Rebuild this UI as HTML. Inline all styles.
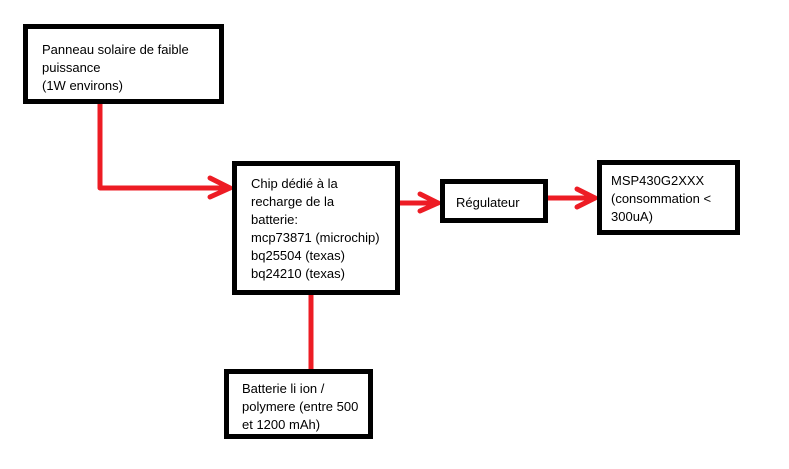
<!DOCTYPE html>
<html><head><style>
body{margin:0;width:789px;height:469px;background:#fff;position:relative;overflow:hidden;font-family:"Liberation Sans",sans-serif;font-size:13px;color:#000}
.b{position:absolute;border:5px solid #000;box-sizing:border-box;background:#fff;line-height:18px;white-space:nowrap}
svg{position:absolute;left:0;top:0}
</style></head><body>
<svg width="789" height="469">
<g stroke="#ed1c24" stroke-width="5" fill="none" stroke-linecap="round" stroke-linejoin="round">
<polyline points="100,104 100,188 230,188"/>
<polyline points="210,178 230,188 210,197"/>
<line x1="399" y1="203" x2="438" y2="203"/>
<polyline points="420,194 438,203 420,211"/>
<line x1="547" y1="198" x2="595" y2="198"/>
<polyline points="577,189 595,198 577,207"/>
<line x1="311" y1="294" x2="311" y2="369"/>
</g>
</svg>
<div class="b" style="left:23px;top:24px;width:201px;height:80px;padding:12px 0 0 14px">Panneau solaire de faible<br>puissance<br>(1W environs)</div>
<div class="b" style="left:232px;top:161px;width:168px;height:134px;padding:9px 0 0 14px">Chip dédié à la<br>recharge de la<br>batterie:<br>mcp73871 (microchip)<br>bq25504 (texas)<br>bq24210 (texas)</div>
<div class="b" style="left:440px;top:179px;width:108px;height:44px;padding:10px 0 0 11px">Régulateur</div>
<div class="b" style="left:597px;top:160px;width:143px;height:75px;padding:7px 0 0 9px">MSP430G2XXX<br>(consommation &lt;<br>300uA)</div>
<div class="b" style="left:224px;top:369px;width:149px;height:70px;padding:6px 0 0 13px">Batterie li ion /<br>polymere (entre 500<br>et 1200 mAh)</div>
</body></html>
